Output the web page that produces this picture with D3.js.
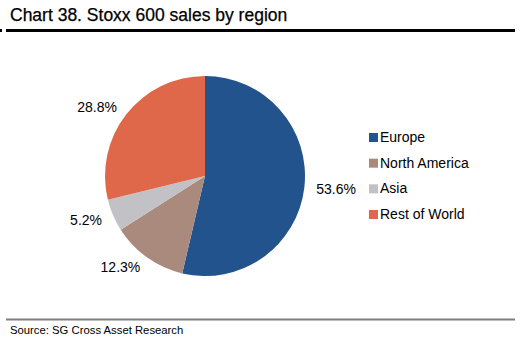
<!DOCTYPE html>
<html><head><meta charset="utf-8">
<script src="https://cdn.jsdelivr.net/npm/d3@7"></script>
<style>body{margin:0;background:#fff}svg{display:block;font-family:"Liberation Sans",Arial,sans-serif}</style>
</head><body>
<svg id="c" width="530" height="339"></svg>
<script>
const categories = ["Europe", "North America", "Asia", "Rest of World"];
const values = [53.6, 12.3, 5.2, 28.8];
const labels = ["53.6%", "12.3%", "5.2%", "28.8%"];
const colors = ["#22538d", "#a98a7c", "#c2c2c6", "#e0684a"];

const svg = d3.select("#c");
svg.append("text").attr("x", 10).attr("y", 21).attr("font-size", 17.5).attr("fill", "#000").attr("stroke", "#000").attr("stroke-width", 0.25).text("Chart 38. Stoxx 600 sales by region");
svg.append("rect").attr("x", 6).attr("y", 29).attr("width", 509).attr("height", 3).attr("fill", "#000");
svg.append("rect").attr("x", 0).attr("y", 29).attr("width", 2).attr("height", 3).attr("fill", "#000");
svg.append("rect").attr("x", 6).attr("y", 318.5).attr("width", 509).attr("height", 2).attr("fill", "#7f7f7f");
svg.append("text").attr("x", 10).attr("y", 334).attr("font-size", 11.3).attr("fill", "#000").text("Source: SG Cross Asset Research");

const cx = 205, cy = 176, r = 100;
const pie = d3.pie().sort(null).value(d => d)(values);
const arc = d3.arc().innerRadius(0).outerRadius(r);
const g = svg.append("g").attr("transform", `translate(${cx},${cy})`);
g.selectAll("path").data(pie).join("path").attr("d", arc).attr("fill", (d, i) => colors[i]);
const lr = 112;
g.selectAll("text").data(pie).join("text")
  .each(function(d, i) {
    const a = (d.startAngle + d.endAngle) / 2;
    const x = Math.sin(a) * lr, y = -Math.cos(a) * lr;
    d3.select(this).attr("x", x).attr("y", y).attr("dy", "0.35em")
      .attr("text-anchor", x >= 0 ? "start" : "end");
  })
  .attr("font-size", 14).attr("fill", "#000").text((d, i) => labels[i]);

const leg = svg.append("g");
const ly = d3.scalePoint().domain(categories).range([137, 214]);
categories.forEach(c => {
  leg.append("rect").attr("x", 369).attr("y", ly(c) - 4).attr("width", 9).attr("height", 9).attr("fill", colors[categories.indexOf(c)]);
  leg.append("text").attr("x", 380).attr("y", ly(c)).attr("dy", "0.35em").attr("font-size", 14).attr("fill", "#000").text(c);
});
</script>
</body></html>
